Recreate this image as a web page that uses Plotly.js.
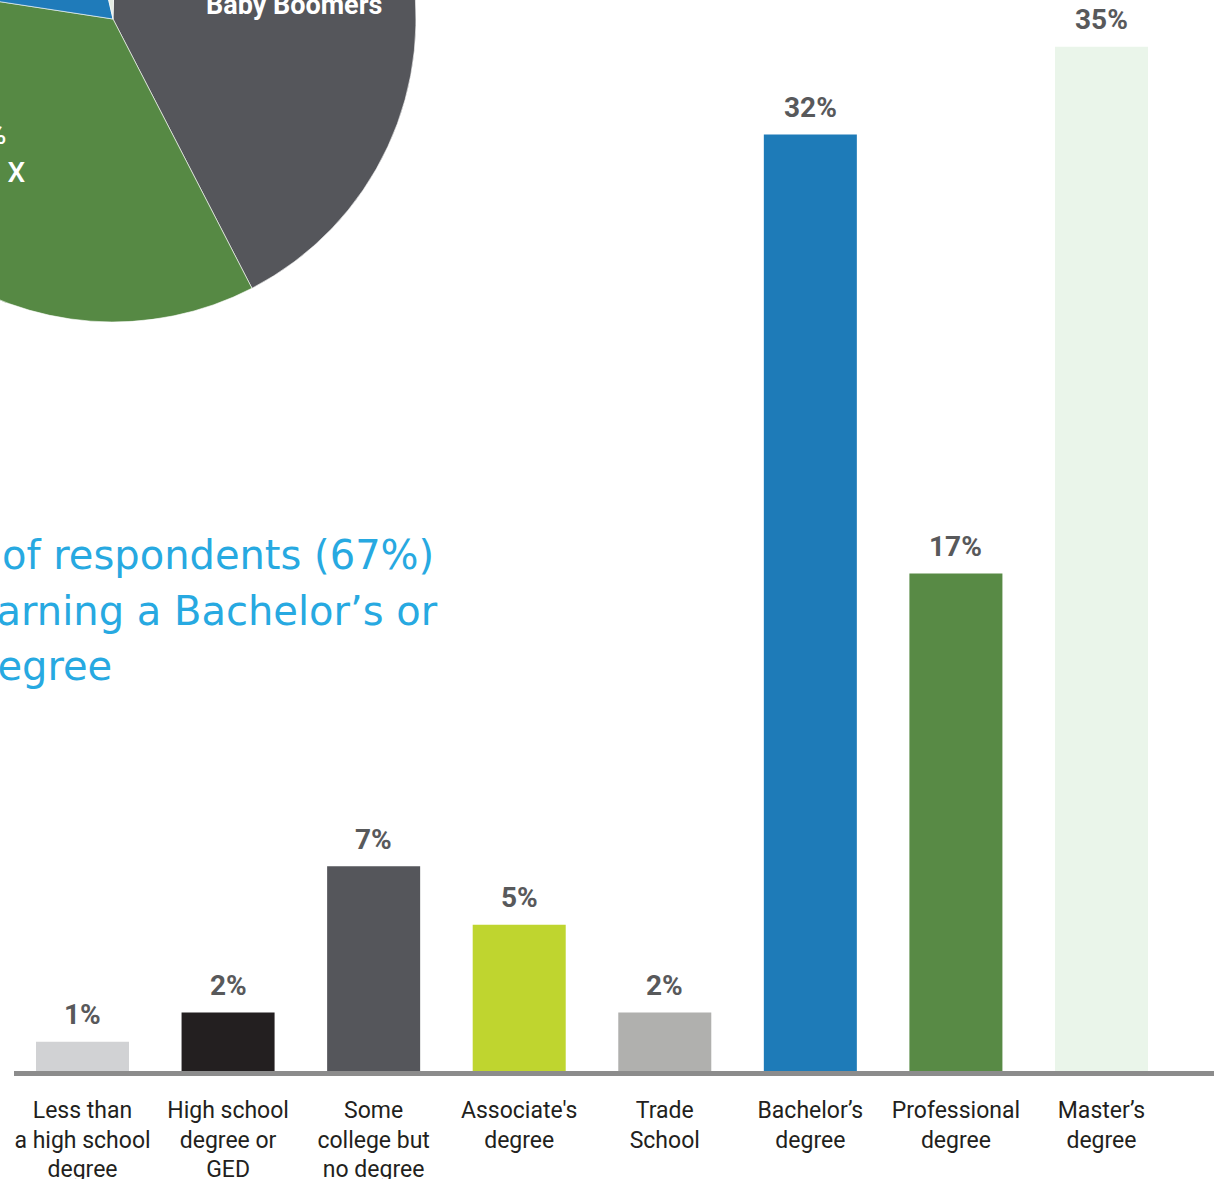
<!DOCTYPE html>
<html>
<head>
<meta charset="utf-8">
<script src="https://cdn.plot.ly/plotly-3.0.1.min.js"></script>
<style>
  html, body { margin: 0; padding: 0; width: 1220px; height: 1179px; overflow: hidden; background: #ffffff; }
  #chart { position: absolute; left: -200px; top: -320px; width: 1420px; height: 1499px; }
</style>
</head>
<body>
<div id="chart"></div>
<script>
// ---- Data ----
const generations = ['Baby Boomers', 'Gen X', 'Millennials', 'Silent Generation'];
const generationShares = [42, 35, 19, 4];
const generationColors = ['#55565b', '#568944', '#1f7bba', '#e4ebe2'];

const degreeLabels = [
  'Less than<br>a high school<br>degree',
  'High school<br>degree or<br>GED',
  'Some<br>college but<br>no degree',
  'Associate\'s<br>degree',
  'Trade<br>School',
  'Bachelor’s<br>degree',
  'Professional<br>degree',
  'Master’s<br>degree'
];
const degreeShares = [1, 2, 7, 5, 2, 32, 17, 35];
const degreeColors = ['#d1d2d4', '#231f20', '#55565b', '#bfd52f', '#b0b0ae', '#1e7bb8', '#588a45', '#eaf5ea'];

const calloutLines = ['of respondents (67%)', 'earning a Bachelor’s or', 'degree'];

// ---- Geometry helpers (viewport px -> paper fraction of the larger div) ----
const W = 1420, H = 1499, OX = 200, OY = 320;
const px = v => (v + OX) / W;
const py = v => 1 - (v + OY) / H;

const pieCx = 113, pieCy = 19, pieR = 303;

const pie = {
  type: 'pie',
  labels: generations,
  values: generationShares,
  marker: { colors: generationColors, line: { color: '#ffffff', width: 0.6 } },
  sort: false,
  direction: 'clockwise',
  rotation: 1.5,
  textinfo: 'none',
  hoverinfo: 'skip',
  showlegend: false,
  domain: { x: [px(pieCx - pieR), px(pieCx + pieR)], y: [py(pieCy + pieR), py(pieCy - pieR)] }
};

const bars = {
  type: 'bar',
  x: degreeLabels,
  y: degreeShares,
  marker: { color: degreeColors },
  hoverinfo: 'skip',
  showlegend: false,
  xaxis: 'x',
  yaxis: 'y'
};

const annotations = [];
// value labels above the bars
degreeLabels.forEach((lab, i) => {
  annotations.push({
    x: lab, y: degreeShares[i], xref: 'x', yref: 'y',
    text: degreeShares[i] + '%',
    showarrow: false, yanchor: 'middle', xanchor: 'center', yshift: 27,
    font: { family: 'Roboto, Arial, sans-serif', size: 28, color: '#58595b', weight: 700 }
  });
});
// pie slice labels
annotations.push({
  x: px(294), y: py(5), xref: 'paper', yref: 'paper',
  text: generations[0], showarrow: false, xanchor: 'center', yanchor: 'middle',
  font: { family: 'Roboto, Arial, sans-serif', size: 27, color: '#ffffff', weight: 700 }
});
annotations.push({
  x: px(8), y: py(134), xref: 'paper', yref: 'paper',
  text: generationShares[1] + '%', showarrow: false, xanchor: 'right', yanchor: 'middle',
  font: { family: 'Roboto, Arial, sans-serif', size: 28, color: '#ffffff', weight: 500 }
});
annotations.push({
  x: px(28), y: py(172), xref: 'paper', yref: 'paper',
  text: generations[1], showarrow: false, xanchor: 'right', yanchor: 'middle',
  font: { family: 'Roboto, Arial, sans-serif', size: 28, color: '#ffffff', weight: 500 }
});
// callout text
const calloutLeft = [0, -30, -30];
const calloutMid = [555, 611, 666];
calloutLines.forEach((t, i) => {
  annotations.push({
    x: px(calloutLeft[i]), y: py(calloutMid[i]), xref: 'paper', yref: 'paper',
    text: t, showarrow: false, xanchor: 'left', yanchor: 'middle', align: 'left',
    font: { family: 'DejaVu Sans, sans-serif', size: 40, color: '#27a9e1' }
  });
});

const layout = {
  width: W, height: H,
  margin: { l: 0, r: 0, t: 0, b: 0, pad: 0 },
  paper_bgcolor: '#ffffff', plot_bgcolor: 'rgba(0,0,0,0)',
  showlegend: false,
  bargap: 0.361,
  xaxis: {
    domain: [px(14), px(1214)],
    type: 'category',
    range: [-0.4706, 7.773],
    showline: true, linecolor: '#8c8c8c', linewidth: 5,
    showgrid: false, zeroline: false, ticks: '',
    ticklabelstandoff: 14,
    tickfont: { family: 'Roboto, Arial, sans-serif', size: 23, color: '#231f20' },
    fixedrange: true
  },
  yaxis: {
    domain: [py(1071), py(0)],
    range: [0, 36.6],
    visible: false, showgrid: false, zeroline: false,
    fixedrange: true
  },
  annotations: annotations
};

Plotly.newPlot('chart', [pie, bars], layout, { staticPlot: true, displayModeBar: false });
</script>
</body>
</html>
